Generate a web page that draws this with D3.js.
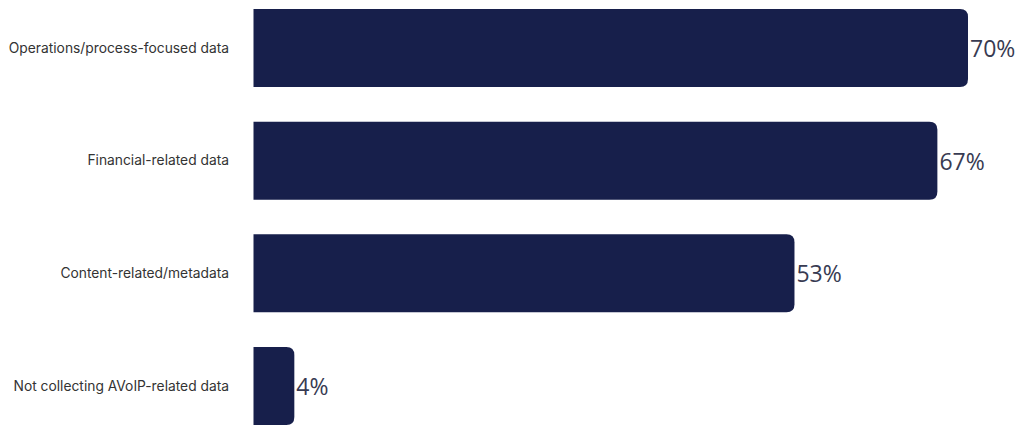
<!DOCTYPE html>
<html><head><meta charset="utf-8">
<script src="https://cdn.jsdelivr.net/npm/d3@7"></script>
<style>html,body{margin:0;padding:0;background:#fff;}svg{display:block;}</style>
</head><body>
<svg id="c" width="1024" height="436"></svg>
<script>
const categories = ["Operations/process-focused data","Financial-related data","Content-related/metadata","Not collecting AVoIP-related data"];
const values = [70, 67, 53, 4];
const valueLabels = ["70%","67%","53%","4%"];

const svg = d3.select("#c");
const x = d3.scaleLinear().domain([0, 70]).range([253.5, 968]);
const y = d3.scaleBand().domain(categories).range([9, 425]).paddingInner(0.308).paddingOuter(0);
const r = 8;

function barPath(d, i) {
  const x0 = x(0), x1 = x(values[i]), y0 = y(d), h = y.bandwidth();
  const rr = Math.min(r, (x1 - x0));
  return `M${x0},${y0}H${x1-rr}Q${x1},${y0} ${x1},${y0+rr}V${y0+h-rr}Q${x1},${y0+h} ${x1-rr},${y0+h}H${x0}Z`;
}

svg.selectAll("path.bar").data(categories).join("path")
  .attr("class","bar").attr("d", barPath).attr("fill", "#171f4b");

svg.selectAll("text.cat").data(categories).join("text")
  .attr("class","cat")
  .attr("x", 229).attr("y", d => y(d) + y.bandwidth()/2)
  .attr("dy","0.35em").attr("text-anchor","end")
  .attr("font-family","Inter, 'Noto Sans', sans-serif").attr("font-size", 13.8)
  .attr("fill","#333333").text(d => d);

svg.selectAll("text.val").data(categories).join("text")
  .attr("class","val")
  .attr("x", (d,i) => x(values[i]) + 2).attr("y", d => y(d) + y.bandwidth()/2 + 1)
  .attr("dy","0.35em").attr("text-anchor","start")
  .attr("font-family","'Open Sans', 'Noto Sans', sans-serif").attr("font-size", 23)
  .attr("fill","#383b52").text((d,i) => valueLabels[i]);
</script>
</body></html>
